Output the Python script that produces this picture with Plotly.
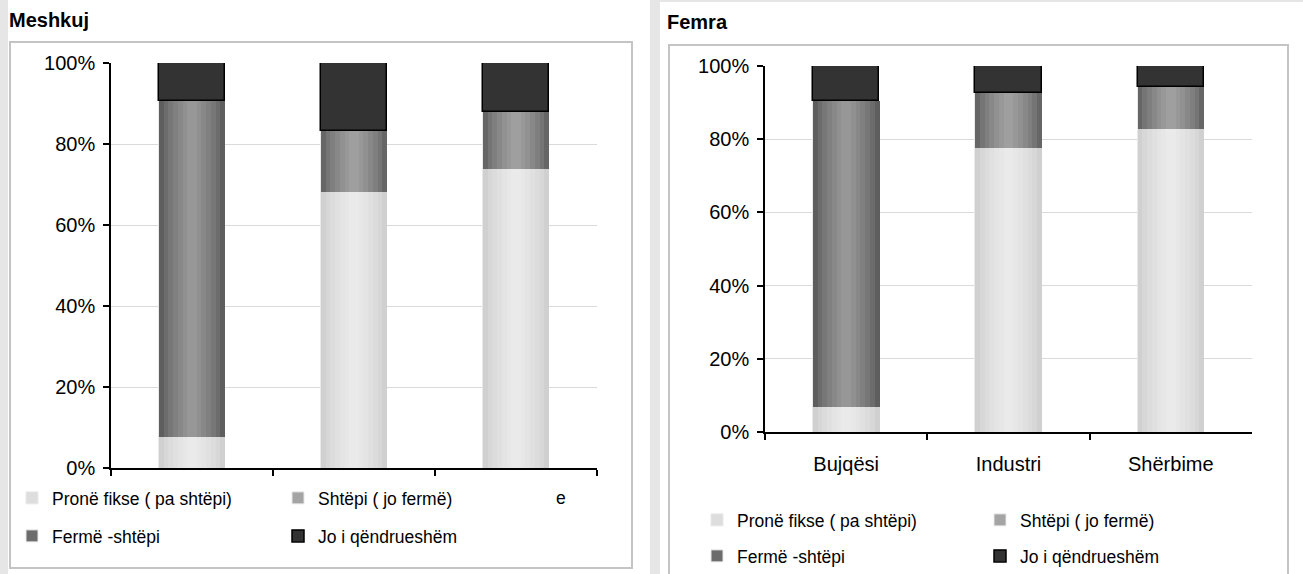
import plotly.graph_objects as go

W, H = 1303, 574

categories = ["Bujqësi", "Industri", "Shërbime"]
series_names = ["Pronë fikse ( pa shtëpi)", "Shtëpi ( jo fermë)", "Fermë -shtëpi", "Jo i qëndrueshëm"]

# Meshkuj (percent)
m_prone = [7.7, 68.1, 73.8]
m_shtepi = [0.0, 15.1, 14.1]
m_ferme = [82.9, 0.0, 0.0]
m_jo = [9.4, 16.8, 12.1]

# Femra (percent)
f_prone = [6.8, 77.6, 82.8]
f_shtepi = [0.0, 15.0, 11.5]
f_ferme = [83.6, 0.0, 0.0]
f_jo = [9.6, 7.4, 5.7]

y_ticks = [0, 20, 40, 60, 80, 100]
y_ticktext = ["0%", "20%", "40%", "60%", "80%", "100%"]

FONT = "Liberation Sans, Arial, sans-serif"
FS_TICK = 20
FS_LEG = 17.5
FS_TITLE = 20

STYLES = [
    dict(swatch="#dddddd", line="#e9e9e9", lw=1, grad=("#c9c9c9", "#ececec")),
    dict(swatch="#a4a4a4", line="#e9e9e9", lw=1, grad=("#575757", "#a2a2a2")),
    dict(swatch="#6c6c6c", line="#e9e9e9", lw=1, grad=("#4e4e4e", "#9a9a9a")),
    dict(swatch="#333333", line="#000000", lw=1.5, grad=None),
]

BAR_W = 0.41
N_STRIPS = 14


def hex2rgb(h):
    h = h.lstrip("#")
    return tuple(int(h[i:i + 2], 16) for i in (0, 2, 4))


def mix(c1, c2, t):
    a, b = hex2rgb(c1), hex2rgb(c2)
    return "rgb(%d,%d,%d)" % tuple(round(x + (y - x) * t) for x, y in zip(a, b))


fig = go.Figure()


def add_chart(values, xa, ya, legends):
    base = [0.0] * len(categories)
    for i, (name, vals) in enumerate(zip(series_names, values)):
        st = STYLES[i]
        lg = legends[0] if i < 2 else legends[1]
        fig.add_trace(go.Bar(
            x=categories, y=vals, base=list(base), name=name,
            width=BAR_W, offset=-BAR_W / 2,
            marker=dict(color=st["swatch"], line=dict(color=st["line"], width=st["lw"])),
            xaxis=xa, yaxis=ya, legend=lg, hoverinfo="skip",
        ))
        if st["grad"]:
            edge, center = st["grad"]
            sw = BAR_W / N_STRIPS
            for k in range(N_STRIPS):
                t = (k + 0.5) / N_STRIPS
                w = 1 - abs(2 * t - 1)
                col = mix(edge, center, w ** 0.6)
                fig.add_trace(go.Bar(
                    x=categories, y=vals, base=list(base),
                    width=sw * 1.05, offset=-BAR_W / 2 + k * sw,
                    marker=dict(color=col, line=dict(width=0)),
                    showlegend=False, xaxis=xa, yaxis=ya, hoverinfo="skip",
                ))
        base = [b + v for b, v in zip(base, vals)]


add_chart([m_prone, m_shtepi, m_ferme, m_jo], "x", "y", ["legend", "legend2"])
add_chart([f_prone, f_shtepi, f_ferme, f_jo], "x2", "y2", ["legend3", "legend4"])


def px_x(p):
    return p / W


def px_y(p):
    return 1 - p / H


xcommon = dict(
    type="category", range=[-0.5, 2.5], showline=True, linecolor="black", linewidth=1.5,
    ticks="outside", tickson="boundaries", ticklen=6, tickcolor="black", tickwidth=1.5,
    showgrid=False, tickfont=dict(family=FONT, size=FS_TICK, color="#000000"), ticklabelstandoff=13,
    fixedrange=True, automargin=False,
)
ycommon = dict(
    range=[0, 100], tickmode="array", tickvals=y_ticks, ticktext=y_ticktext, showline=True,
    linecolor="black", linewidth=1.5, ticks="outside", ticklen=6, tickcolor="black", tickwidth=1.5,
    showgrid=True, gridcolor="#dadada", gridwidth=1, zeroline=False, ticklabelstandoff=4,
    tickfont=dict(family=FONT, size=FS_TICK, color="#000000"), fixedrange=True, automargin=False,
)

leg_common = dict(
    orientation="h", xanchor="left", yanchor="middle", bgcolor="white",
    font=dict(family=FONT, size=FS_LEG, color="#000000"), entrywidthmode="pixels",
    borderwidth=0, itemclick=False, itemdoubleclick=False,
)

fig.update_layout(
    width=W, height=H, autosize=False,
    margin=dict(l=0, r=0, t=0, b=0, pad=0, autoexpand=False),
    paper_bgcolor="white", plot_bgcolor="rgba(0,0,0,0)",
    barmode="overlay", bargap=0,
    font=dict(family=FONT, size=FS_TICK, color="#000000"),
    xaxis=dict(domain=[px_x(111), px_x(597)], anchor="y", showticklabels=False, **xcommon),
    yaxis=dict(domain=[px_y(468), px_y(63)], anchor="x", **ycommon),
    xaxis2=dict(domain=[px_x(765), px_x(1252)], anchor="y2", showticklabels=True, **xcommon),
    yaxis2=dict(domain=[px_y(432), px_y(66)], anchor="x2", **ycommon),
    legend=dict(x=px_x(12), y=px_y(498), entrywidth=221, **leg_common),
    legend2=dict(x=px_x(12), y=px_y(536), entrywidth=221, **leg_common),
    legend3=dict(x=px_x(697), y=px_y(520), entrywidth=238, **leg_common),
    legend4=dict(x=px_x(697), y=px_y(556), entrywidth=238, **leg_common),
    showlegend=True,
)

shapes = [
    dict(type="rect", xref="paper", yref="paper", x0=0, x1=px_x(8), y0=0, y1=1,
         fillcolor="#e6e6e6", line=dict(width=0), layer="below"),
    dict(type="rect", xref="paper", yref="paper", x0=px_x(650), x1=px_x(660), y0=0, y1=1,
         fillcolor="#e6e6e6", line=dict(width=0), layer="below"),
    dict(type="rect", xref="paper", yref="paper", x0=px_x(660), x1=1, y0=px_y(2), y1=1,
         fillcolor="#e6e6e6", line=dict(width=0), layer="below"),
    dict(type="rect", xref="paper", yref="paper", x0=px_x(10), x1=px_x(632), y0=px_y(568), y1=px_y(42),
         fillcolor="rgba(0,0,0,0)", line=dict(color="#c4c4c4", width=2), layer="below"),
    dict(type="rect", xref="paper", yref="paper", x0=px_x(669), x1=px_x(1288), y0=px_y(580), y1=px_y(45),
         fillcolor="rgba(0,0,0,0)", line=dict(color="#c4c4c4", width=2), layer="below"),
]
fig.update_layout(shapes=shapes)

fig.add_annotation(text="<b>Meshkuj</b>", xref="paper", yref="paper", x=px_x(7), y=px_y(20),
                   xanchor="left", yanchor="middle", showarrow=False,
                   font=dict(family=FONT, size=FS_TITLE, color="#000000"))
fig.add_annotation(text="<b>Femra</b>", xref="paper", yref="paper", x=px_x(665), y=px_y(22),
                   xanchor="left", yanchor="middle", showarrow=False,
                   font=dict(family=FONT, size=FS_TITLE, color="#000000"))
# visible end of the left chart's category label, the rest hidden behind the legend
fig.add_annotation(text="e", xref="paper", yref="paper", x=px_x(554), y=px_y(498),
                   xanchor="left", yanchor="middle", showarrow=False,
                   font=dict(family=FONT, size=FS_LEG, color="#000000"))

fig.write_html(
    "out.html",
    config={"displayModeBar": False, "responsive": False},
    default_width="%dpx" % W, default_height="%dpx" % H,
    post_script="document.body.style.margin='0';document.body.style.overflow='hidden';",
)
